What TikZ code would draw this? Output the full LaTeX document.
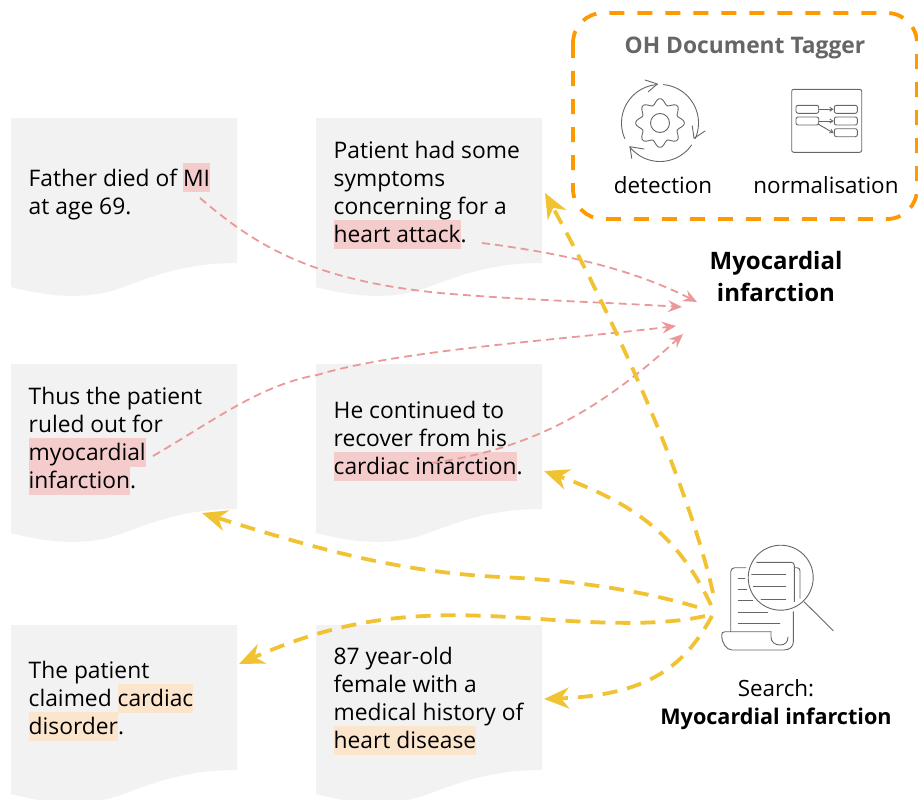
\documentclass[tikz,border=0pt]{standalone}
\usepackage{fontspec}
\usetikzlibrary{arrows.meta}
\setmainfont{Open Sans}
\lineskiplimit=-50pt
\definecolor{paper}{HTML}{F2F2F2}
\definecolor{pinkhl}{HTML}{F4CCCC}
\definecolor{orangehl}{HTML}{FCE5CD}
\definecolor{pinkline}{HTML}{EA9999}
\definecolor{goldline}{HTML}{F1C232}
\definecolor{tagorange}{HTML}{FF9900}
\definecolor{icongrey}{HTML}{666666}
\newcommand{\hlp}[1]{\setlength{\fboxsep}{0pt}\colorbox{pinkhl}{\rule[-6pt]{0pt}{29pt}#1}}
\newcommand{\hlo}[1]{\setlength{\fboxsep}{0pt}\colorbox{orangehl}{\rule[-6pt]{0pt}{29pt}#1}}
\newcommand{\docshape}[2]{%
  \fill[paper] (#1,#2) -- (#1+226,#2) -- (#1+226,#2+145)
    .. controls (#1+180,#2+145) and (#1+150,#2+155) .. (#1+115,#2+168)
    .. controls (#1+85,#2+180) and (#1+50,#2+182) .. (#1,#2+169) -- cycle;}
\tikzset{
  doctext/.style={anchor=north west,inner sep=0pt,align=left,font=\fontsize{22.8}{28}\selectfont},
  label/.style={inner sep=0pt,align=center,font=\fontsize{22.4}{28}\selectfont},
  pinkarrow/.style={draw=pinkline,line width=1.8pt,dash pattern=on 8pt off 5pt,-{Stealth[length=14pt,width=12pt,inset=5pt]}},
  goldarrow/.style={draw=goldline,line width=3.8pt,dash pattern=on 15pt off 10pt,-{Stealth[length=25pt,width=21pt,inset=8pt]}},
  icon/.style={draw=icongrey,line width=.9pt,line cap=round,line join=round},
  tagbox/.style={draw=tagorange,line width=3.8pt,dash pattern=on 15pt off 13pt,rounded corners=30pt},
}
\begin{document}
\begin{tikzpicture}[x=1pt,y=-1pt]
\useasboundingbox (0,0) rectangle (918,800);
\docshape{11}{118}\docshape{316}{118}
\docshape{11}{364}\docshape{316}{364}
\docshape{11}{625}\docshape{316}{625}
\node[doctext] (d1) at (28.5,163) {Father died of \hlp{MI}\\at age 69.};
\node[doctext] (d2) at (333.5,141) {Patient had some\\symptoms\\concerning for a\\\hlp{heart attack}.};
\node[doctext] (d3) at (28.5,387) {Thus the patient\\ruled out for\\\hlp{myocardial}\\\hlp{infarction}.};
\node[doctext] (d4) at (333.5,401) {He continued to\\recover from his\\\hlp{cardiac infarction}.};
\node[doctext] (d5) at (28.5,661) {The patient\\claimed \hlo{cardiac}\\\hlo{disorder}.};
\node[doctext] (d6) at (333.5,647) {87 year-old\\female with a\\medical history of\\\hlo{heart disease}};
\draw[tagbox] (573,13) rectangle (917,219);
\node[label,font=\fontsize{22.8}{28}\selectfont\bfseries,text=icongrey] (tagger) at (745,48) {OH Document Tagger};
\node[label] (det) at (663,185) {detection};
\node[label] (norm) at (826,185) {normalisation};
\node[label,font=\fontsize{24}{32}\selectfont\bfseries] (mi) at (776,276) {Myocardial\\infarction};
\node[label] (search) at (776,705) {Search:\\\fontsize{21.6}{28}\selectfont\textbf{Myocardial infarction}};
% detection icon
\draw[icon] plot[domain=204:94,samples=40] ({660+38.5*cos(\x)},{123-38.5*sin(\x)});
\draw[icon] (645,80) -- (657.3,84) -- (648.3,91.7);
\draw[icon] plot[domain=85:-24,samples=40] ({660+38.5*cos(\x)},{123-38.5*sin(\x)});
\draw[icon] (692.3,126) -- (694,138.3) -- (705,131);
\draw[icon] plot[domain=-35:-142,samples=40] ({660+38.5*cos(\x)},{123-38.5*sin(\x)});
\draw[icon] (631.7,158.3) -- (630,146.7) -- (644,149);
\draw[icon] plot[domain=0:360,samples=200] ({660+(21.5+2.8*cos(8*\x))*cos(\x)},{123-(21.5+2.8*cos(8*\x))*sin(\x)}) -- cycle;
\draw[icon] (660,123) circle[radius=9.5];
% normalisation icon
\draw[icon,rounded corners=2pt] (791.7,89.3) rectangle (861.7,152.3);
\draw[icon,rounded corners=2pt] (796,105.3) rectangle (818.7,113.3);
\draw[icon,rounded corners=2pt] (796,117) rectangle (818.7,125);
\draw[icon,rounded corners=2pt] (834.3,105.3) rectangle (857.3,113.3);
\draw[icon,rounded corners=2pt] (834.3,117) rectangle (857.3,125);
\draw[icon,rounded corners=2pt] (834.3,128.7) rectangle (857.3,136.7);
\draw[icon,-{Straight Barb[length=3pt,width=4pt]}] (818.7,109.3) -- (833.5,109.3);
\draw[icon,-{Straight Barb[length=3pt,width=4pt]}] (818.7,121) -- (833.5,121);
\draw[icon,-{Straight Barb[length=3pt,width=4pt]}] (818,124) -- (833.5,133);
% search icon
\draw[icon] (780.7,577.7) circle[radius=32.5];
\draw[icon] (804,601.7) -- (833.3,630.7);
\draw[icon,rounded corners=4pt] (746,567.7) -- (730.7,567.7) -- (730.7,631.7);
\draw[icon] (771,631.7) -- (725,631.7) .. controls (722,631.7) and (721.7,633) .. (721.7,636)
  .. controls (721.7,642) and (726,650) .. (732,650) -- (784,650)
  .. controls (790,650) and (793.3,646) .. (793.3,642) -- (793.3,611.7);
\draw[icon] (771,631.7) -- (771,637) .. controls (771,642) and (775,645) .. (780,645)
  .. controls (785,645) and (788,642) .. (788,637);
\draw[icon] (738.3,578.3) -- (745,578.3);
\draw[icon] (738.3,589.3) -- (746.7,589.3);
\draw[icon] (738.3,600.7) -- (752.7,600.7);
\draw[icon] (738.3,612) -- (767.7,612);
\draw[icon] (738.3,623.3) -- (780,623.3);
\draw[icon,rounded corners=3pt] (756.7,562.3) -- (794.3,562.3) -- (794.3,601.7);
\draw[icon,rounded corners=3pt] (795,567.7) -- (800,567.7) -- (800,598.3);
\draw[icon] (751.7,574) -- (785.7,574);
\draw[icon] (753.3,586.7) -- (785.7,586.7);
\draw[icon] (761,599.3) -- (785.7,599.3);
% connector ends
\coordinate (pAs) at (200,198);
\coordinate (pAm) at (440,293);
\coordinate (pAe) at (682,307);
\coordinate (pBs) at (482,243);
\coordinate (pBe) at (697,302);
\coordinate (pCs) at (153,456);
\coordinate (pCm) at (317,375);
\coordinate (pCe) at (676,326);
\coordinate (pDs) at (432,463);
\coordinate (pDe) at (683,334);
\coordinate (gAs) at (713,593);
\coordinate (gAe) at (545,193);
\coordinate (gBs) at (711,605);
\coordinate (gBe) at (544,471);
\coordinate (gCs) at (697,607);
\coordinate (gCm) at (500,577);
\coordinate (gCe) at (202,513);
\coordinate (gDs) at (705,616);
\coordinate (gDm) at (540,619);
\coordinate (gDe) at (239,664);
\coordinate (gEs) at (712,616);
\coordinate (gEe) at (544,699);
% pink connectors
\draw[pinkarrow] (pAs) .. controls (255,245) and (310,280) .. (pAm) .. controls (520,300) and (600,302) .. (pAe);
\draw[pinkarrow] (pBs) .. controls (560,253) and (630,268) .. (pBe);
\draw[pinkarrow] (pCs) .. controls (215,420) and (260,385) .. (pCm) .. controls (400,350) and (560,340) .. (pCe);
\draw[pinkarrow] (pDs) .. controls (520,450) and (590,420) .. (pDe);
% gold connectors
\draw[goldarrow] (gAs) .. controls (690,490) and (620,330) .. (gAe);
\draw[goldarrow] (gBs) .. controls (680,540) and (640,505) .. (gBe);
\draw[goldarrow] (gCs) .. controls (640,590) and (570,580) .. (gCm) .. controls (400,572) and (320,550) .. (gCe);
\draw[goldarrow] (gDs) .. controls (670,624) and (620,625) .. (gDm) .. controls (440,612) and (360,610) .. (gDe);
\draw[goldarrow] (gEs) .. controls (685,665) and (650,695) .. (gEe);
\end{tikzpicture}
\end{document}
